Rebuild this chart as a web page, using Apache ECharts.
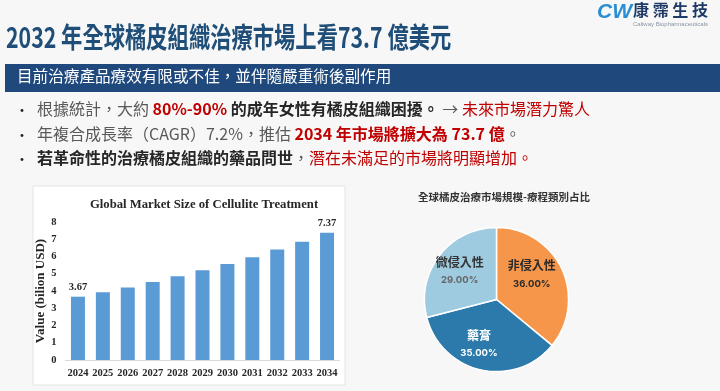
<!DOCTYPE html>
<html><head><meta charset="utf-8">
<script src="https://cdn.jsdelivr.net/npm/echarts@6/dist/echarts.min.js"></script>
<style>html,body{margin:0;padding:0;background:#f7f7f7}#c{width:720px;height:391px}</style>
</head><body><div id="c"></div>
<script>
// ---- data ----
const years = ['2024','2025','2026','2027','2028','2029','2030','2031','2032','2033','2034'];
const marketSize = [3.67, 3.93, 4.21, 4.52, 4.85, 5.20, 5.57, 5.96, 6.40, 6.85, 7.37];
const labeledYears = ['2024','2034'];
const yMin = 0, yMax = 8, yStep = 1;
const pieNames = ['非侵入性', '藥膏', '微侵入性'];
const pieValues = [36, 35, 29];

const pageTitle = '2032 年全球橘皮組織治療市場上看73.7 億美元';
const bannerText = '目前治療產品療效有限或不佳，並伴隨嚴重術後副作用';
const barTitle = 'Global Market Size of Cellulite Treatment';
const barAxisName = 'Value (bilion USD)';
const pieTitle = '全球橘皮治療市場規模-療程類別占比';

// ---- styling ----
const CJK = '"Noto Sans CJK TC", "Noto Sans CJK SC", sans-serif';
const SERIF = '"Liberation Serif", "DejaVu Serif", serif';
const pieColors = ['#f6964a', '#2b7aab', '#9ecbe0'];
const pieLabelColors = [['#2a2a2a', '#2a2a2a'], ['#ffffff', '#ffffff'], ['#333333', '#666666']];
const pieLabelPad = [[0, 0, 18, 0], [12, 18, 0, 0], [0, 12, 10, 0]];

const chart = echarts.init(document.getElementById('c'), null, {renderer: 'canvas'});

const barData = marketSize.map((v, i) => labeledYears.includes(years[i])
  ? {value: v, label: {show: true}} : v);

const pieData = pieNames.map((n, i) => ({
  name: n, value: pieValues[i],
  itemStyle: {color: pieColors[i]},
  label: {padding: pieLabelPad[i], rich: {
    n: {fontFamily: CJK, fontWeight: 'bold', fontSize: 12, color: pieLabelColors[i][0], lineHeight: 20},
    p: {fontFamily: 'Inter, "Noto Sans", sans-serif', fontWeight: 'bold', fontSize: 9.5, color: pieLabelColors[i][1], lineHeight: 16}
  }}
}));

const FS = 16;
const rich = {
  g: {fontFamily: CJK, fontSize: FS, fill: '#595959'},
  b: {fontFamily: CJK, fontSize: FS, fill: '#262626', fontWeight: 'bold'},
  r: {fontFamily: CJK, fontSize: FS, fill: '#c00000', fontWeight: 'bold'},
  rr: {fontFamily: CJK, fontSize: FS, fill: '#c00000'}
};

function bullet(y, text) {
  return [
    {type: 'text', left: 15, top: y - 10, style: {text: '•', font: '14px ' + CJK, fill: '#262626'}},
    {type: 'text', left: 37, top: y - 12, style: {text: text, rich: rich}}
  ];
}

chart.setOption({
  backgroundColor: '#f7f7f7',
  animation: false,
  graphic: [
    {type: 'rect', shape: {x: 33, y: 186, width: 312, height: 199}, style: {fill: '#ffffff', stroke: '#e4e4e4', lineWidth: 1}, z: -10},
    {type: 'text', left: 6, top: 23, scaleY: 1.35, style: {text: pageTitle, font: 'bold 21.3px ' + CJK, fill: '#1f4e79'}},
    {type: 'rect', shape: {x: 5, y: 64, width: 715, height: 28}, style: {fill: '#1f497d'}},
    {type: 'text', left: 17, top: 68, style: {text: bannerText, font: '15.6px ' + CJK, fill: '#ffffff'}},
    ...bullet(113, '{g|根據統計，大約 }{r|80%-90%}{b| 的成年女性有橘皮組織困擾。}{g| → }{rr|未來市場潛力驚人}'),
    ...bullet(138, '{g|年複合成長率（CAGR）7.2%，推估 }{r|2034 年市場將擴大為 73.7 億}{g|。}'),
    ...bullet(162, '{b|若革命性的治療橘皮組織的藥品問世}{g|，}{rr|潛在未滿足的市場將明顯增加。}'),
    {type: 'text', left: 597, top: 2, style: {text: 'CW', font: 'italic bold 21px "Liberation Sans", sans-serif', fill: '#2a8fd2'}},
    {type: 'text', left: 633, top: 2, style: {text: '康 霈 生 技', font: 'bold 16px ' + CJK, fill: '#1f3a66'}},
    {type: 'text', left: 633, top: 21, style: {text: 'Caliway Biopharmaceuticals', font: '6px "Liberation Sans", sans-serif', fill: '#8a96a8'}}
  ],
  title: [
    {text: barTitle, left: 199, top: 193, textAlign: 'center',
     textStyle: {fontFamily: SERIF, fontWeight: 'bold', fontSize: 12.7, color: '#262626'}},
    {text: pieTitle, left: 413, top: 187,
     textStyle: {fontFamily: CJK, fontWeight: 'bold', fontSize: 10.5, color: '#333333'}}
  ],
  grid: {left: 65.5, width: 274, top: 222, height: 138, containLabel: false},
  xAxis: {
    type: 'category', data: years,
    axisTick: {show: false},
    axisLine: {lineStyle: {color: '#d9d9d9', width: 1}},
    axisLabel: {interval: 0, hideOverlap: false, fontFamily: SERIF, fontWeight: 'bold', fontSize: 10.5, color: '#262626', margin: 8}
  },
  yAxis: {
    type: 'value', min: yMin, max: yMax, interval: yStep,
    splitLine: {show: false}, axisLine: {show: false}, axisTick: {show: false},
    axisLabel: {fontFamily: SERIF, fontWeight: 'bold', fontSize: 10.5, color: '#262626', margin: 9},
    name: barAxisName, nameLocation: 'middle', nameRotate: 90, nameGap: 18,
    nameTextStyle: {fontFamily: SERIF, fontWeight: 'bold', fontSize: 13, color: '#262626'}
  },
  series: [
    {type: 'bar', data: barData, barWidth: 14, itemStyle: {color: '#5b9bd5'},
     label: {show: false, position: 'top', distance: 4, fontFamily: SERIF, fontWeight: 'bold', fontSize: 10.5, color: '#262626'}},
    {type: 'pie', center: [496.5, 299.5], radius: 72, startAngle: 90, clockwise: true,
     itemStyle: {borderColor: '#ffffff', borderWidth: 1.5},
     label: {position: 'inner', formatter: p => '{n|' + p.name + '}\n{p|' + p.value.toFixed(2) + '%}'},
     labelLine: {show: false},
     emphasis: {disabled: true},
     data: pieData}
  ]
});
</script></body></html>
